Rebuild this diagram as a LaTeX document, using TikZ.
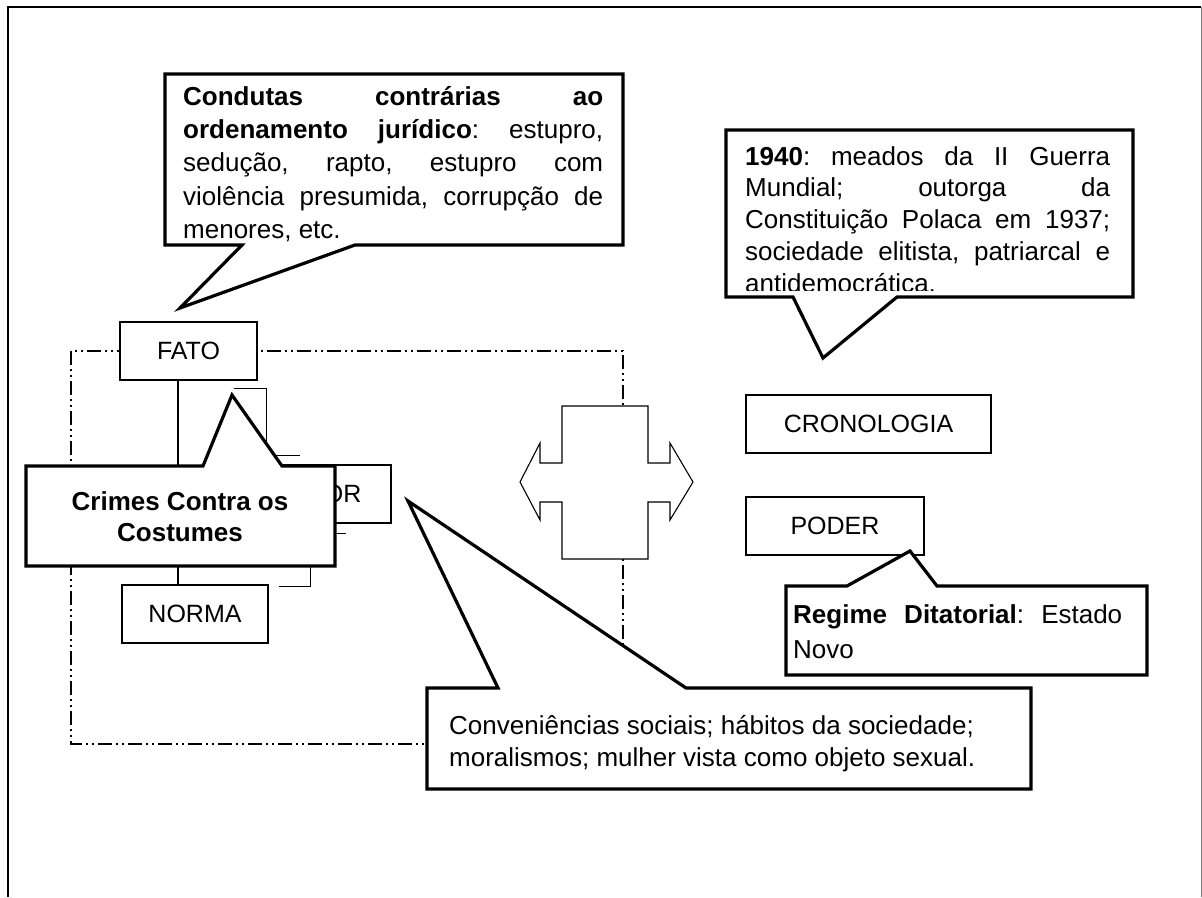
\documentclass[tikz,border=0pt]{standalone}
\usepackage{fontspec}
\setmainfont{Liberation Sans}
\usepackage{tikz}
\frenchspacing

\newcommand{\boxfont}{\fontsize{25}{30}\selectfont}
\newcommand{\notefont}[1]{\fontsize{26}{#1}\selectfont\tolerance=10000\hyphenpenalty=10000}

\begin{document}
\begin{tikzpicture}[x=1pt,y=-1pt]
    \tikzstyle{box}=[draw,line width=1.1pt,fill=white,inner sep=0pt,minimum height=58pt,font=\boxfont]
    \tikzstyle{balloon}=[draw,line width=3.2pt,fill=white,line join=miter]
    \tikzstyle{blurb}=[inner sep=0pt,anchor=north west,align=justify]
    \tikzstyle{link}=[line width=1.1pt]
    \tikzstyle{frontier}=[line width=1.1pt,dash pattern=on 14pt off 4pt on 2pt off 4pt on 2pt off 4pt]
    \useasboundingbox (0,0) rectangle (1202,897);

    % page frame
    \draw[line width=2.4pt] (8,897) -- (8,7) -- (1201,7);
    \draw[line width=1pt,gray] (1201,7) -- (1201,897);

    % dash-dot region
    \draw[frontier] (71,351) rectangle (623,744);

    % the three boxes
    \node[box,minimum width=137pt] (fato) at (188.5,351) {FATO};
    \node[box,minimum width=142pt] (valor) at (320,494) {VALOR};
    \node[box,minimum width=146pt] (norma) at (195,614) {NORMA};

    \coordinate (spine) at (178,0);
    \draw[link] (fato.south -| spine) -- (norma.north -| spine);
    \draw[link] ([shift={(-24,8)}]fato.south east) -- ++(33,0) |- ([shift={(52,-9)}]valor.north west);
    \draw[link] ([shift={(-46,10)}]valor.south east) -- ++(-35,0) |- ([shift={(10,2)}]norma.north east);

    % double arrow
    \draw[link,fill=white] (562,406) -- (648,406) -- (648,463) -- (670,463) -- (670,443) -- (693,482)
      -- (670,520) -- (670,502) -- (648,502) -- (648,559) -- (562,559) -- (562,502) -- (540,502)
      -- (540,520) -- (520,482) -- (540,443) -- (540,463) -- (562,463) -- cycle;

    \node[box,minimum width=245pt] (crono) at (868.5,424) {CRONOLOGIA};
    \node[box,minimum width=178pt] (poder) at (835,526) {PODER};

    % balloons
    \draw[balloon] (26,466) -- (203,466) -- (232,395) -- (282,466) -- (335,466) -- (335,566) -- (26,566) -- cycle;
    \node[inner sep=0pt,anchor=north,align=center,font=\notefont{31}\bfseries] (crimes) at (180,490)
      {\rule{0pt}{20pt}Crimes Contra os\\Costumes};

    \draw[balloon] (165,74) -- (623,74) -- (623,245) -- (355,245) -- (180,308) -- (242,245) -- (165,245) -- cycle;
    \node[blurb,text width=420pt,font=\notefont{33.3}] (condutas) at (183,85)
      {\rule{0pt}{20pt}\textbf{Condutas contrárias ao}\linebreak
       \textbf{ordenamento jurídico}: estupro,\linebreak
       sedução, rapto, estupro com\linebreak
       violência presumida, corrupção de\linebreak
       menores, etc.};

    \draw[balloon] (726,130) -- (1133,130) -- (1133,297) -- (897,297) -- (823,358) -- (793,297) -- (726,297) -- cycle;
    \begin{scope}
      \clip (729,133) rectangle (1130,290);
      \node[blurb,text width=365pt,font=\notefont{31.7}] (epoca) at (745,145)
        {\rule{0pt}{20pt}\textbf{1940}: meados da II Guerra\linebreak
         Mundial; outorga da\linebreak
         Constituição Polaca em 1937;\linebreak
         sociedade elitista, patriarcal e\linebreak
         antidemocrática.};
    \end{scope}

    \draw[balloon] (427,688) -- (498,688) -- (408,501) -- (686,688) -- (1031,688) -- (1031,789) -- (427,789) -- cycle;
    \node[blurb,align=left,font=\notefont{32}] (habitos) at (449,714)
      {\rule{0pt}{20pt}Conveniências sociais; hábitos da sociedade;\\
       moralismos; mulher vista como objeto sexual.};

    \draw[balloon] (786,586) -- (847,586) -- (910,551) -- (937,586) -- (1147,586) -- (1147,675) -- (786,675) -- cycle;
    \node[blurb,text width=329pt,font=\notefont{35}] (regime) at (793,603)
      {\rule{0pt}{20pt}\textbf{Regime Ditatorial}: Estado\linebreak
       Novo};
\end{tikzpicture}
\end{document}
